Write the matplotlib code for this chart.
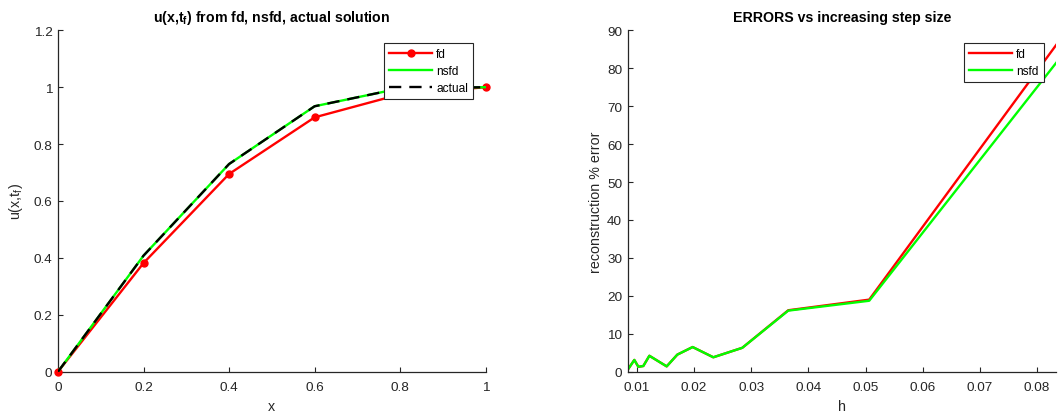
import matplotlib
matplotlib.use("Agg")
import matplotlib.pyplot as plt

# left panel: solution at final time
x_nodes = [0.0, 0.2, 0.4, 0.6, 0.8, 1.0]
u_fd = [0.0, 0.382, 0.695, 0.894, 0.975, 1.0]
u_nsfd = [0.0, 0.408, 0.730, 0.933, 0.996, 1.0]
u_actual = [0.0, 0.408, 0.730, 0.933, 0.996, 1.0]

# right panel: error vs step size
h_vals = [0.00837, 0.00953, 0.01023, 0.0111, 0.01216, 0.01519, 0.01705,
          0.01973, 0.02335, 0.02842, 0.03646, 0.05062, 0.0840]
err_fd = [0.5, 3.1, 1.3, 1.5, 4.2, 1.4, 4.5, 6.5, 3.8, 6.3, 16.2, 19.0, 87.5]
err_nsfd = [0.5, 3.1, 1.3, 1.5, 4.2, 1.4, 4.5, 6.5, 3.8, 6.3, 16.1, 18.7, 82.7]

left_xticks = [0, 0.2, 0.4, 0.6, 0.8, 1]
left_xlabels = ["0", "0.2", "0.4", "0.6", "0.8", "1"]
left_yticks = [0, 0.2, 0.4, 0.6, 0.8, 1, 1.2]
left_ylabels = ["0", "0.2", "0.4", "0.6", "0.8", "1", "1.2"]
right_xticks = [0.01, 0.02, 0.03, 0.04, 0.05, 0.06, 0.07, 0.08]
right_xlabels = ["0.01", "0.02", "0.03", "0.04", "0.05", "0.06", "0.07", "0.08"]
right_yticks = list(range(0, 91, 10))

plt.rcParams["font.family"] = ["Liberation Sans", "DejaVu Sans"]
plt.rcParams["mathtext.fontset"] = "custom"
plt.rcParams["mathtext.rm"] = "Liberation Sans"
plt.rcParams["mathtext.bf"] = "Liberation Sans:bold"

axcol = "#262626"
W, H = 1058, 414
fig = plt.figure(figsize=(W / 100, H / 100), dpi=100)


def px_axes(x0, x1, y0, y1):
    return fig.add_axes([x0 / W, 1 - y1 / H, (x1 - x0) / W, (y1 - y0) / H])


def style(ax):
    for s in ["top", "right"]:
        ax.spines[s].set_visible(False)
    for s in ["left", "bottom"]:
        ax.spines[s].set_color(axcol)
        ax.spines[s].set_linewidth(0.9)
    ax.tick_params(direction="in", length=3.5, width=0.8, colors=axcol,
                   labelsize=9.7, pad=4)
    ax.tick_params(axis="x", pad=7)


def legend(ax, x0, y0):
    leg = ax.legend(loc="upper left", bbox_to_anchor=(x0 / W, 1 - y0 / H),
                    bbox_transform=fig.transFigure, borderaxespad=0,
                    fancybox=False, edgecolor=axcol, framealpha=1, fontsize=8.6,
                    handlelength=3.6, handletextpad=0.35, labelspacing=0.42,
                    borderpad=0.42)
    leg.get_frame().set_linewidth(0.8)
    leg.set_zorder(10)
    return leg


# ---- left
ax1 = px_axes(58, 485.7, 31.3, 372.7)
ax1.plot(x_nodes, u_fd, color="#ff0000", lw=1.7, marker="o", ms=5,
         label="fd", clip_on=False, zorder=3)
ax1.plot(x_nodes, u_nsfd, color="#00ff00", lw=1.7, label="nsfd", zorder=4)
ax1.plot(x_nodes, u_actual, color="black", lw=1.7, linestyle=(0, (5.2, 3.4)),
         label="actual", zorder=5)
ax1.set_xlim(0, 1)
ax1.set_ylim(0, 1.2)
ax1.set_xticks(left_xticks)
ax1.set_xticklabels(left_xlabels)
ax1.set_yticks(left_yticks)
ax1.set_yticklabels(left_ylabels)
style(ax1)
ax1.set_title(r"u(x,t$_\mathregular{f}$) from fd, nsfd, actual solution",
              fontsize=10.2, fontweight="bold", pad=7)
ax1.set_xlabel("x", fontsize=10.3, color=axcol, labelpad=4)
ax1.set_ylabel(r"u(x,t$_\mathregular{f}$)", fontsize=10.3, color=axcol, labelpad=6)
legend(ax1, 384, 44)

# ---- right
ax2 = px_axes(627.7, 1056, 31.3, 372.7)
ax2.plot(h_vals, err_fd, color="#ff0000", lw=1.7, label="fd")
ax2.plot(h_vals, err_nsfd, color="#00ff00", lw=1.7, label="nsfd")
ax2.set_xlim(0.00837, 0.0833)
ax2.set_ylim(0, 90)
ax2.set_xticks(right_xticks)
ax2.set_xticklabels(right_xlabels)
ax2.set_yticks(right_yticks)
style(ax2)
ax2.set_title("ERRORS vs increasing step size", fontsize=10.2,
              fontweight="bold", pad=7)
ax2.set_xlabel("h", fontsize=10.3, color=axcol, labelpad=4)
ax2.set_ylabel("reconstruction % error", fontsize=10.3, color=axcol, labelpad=3)
legend(ax2, 964, 44)

fig.savefig("out.png", dpi=100)
